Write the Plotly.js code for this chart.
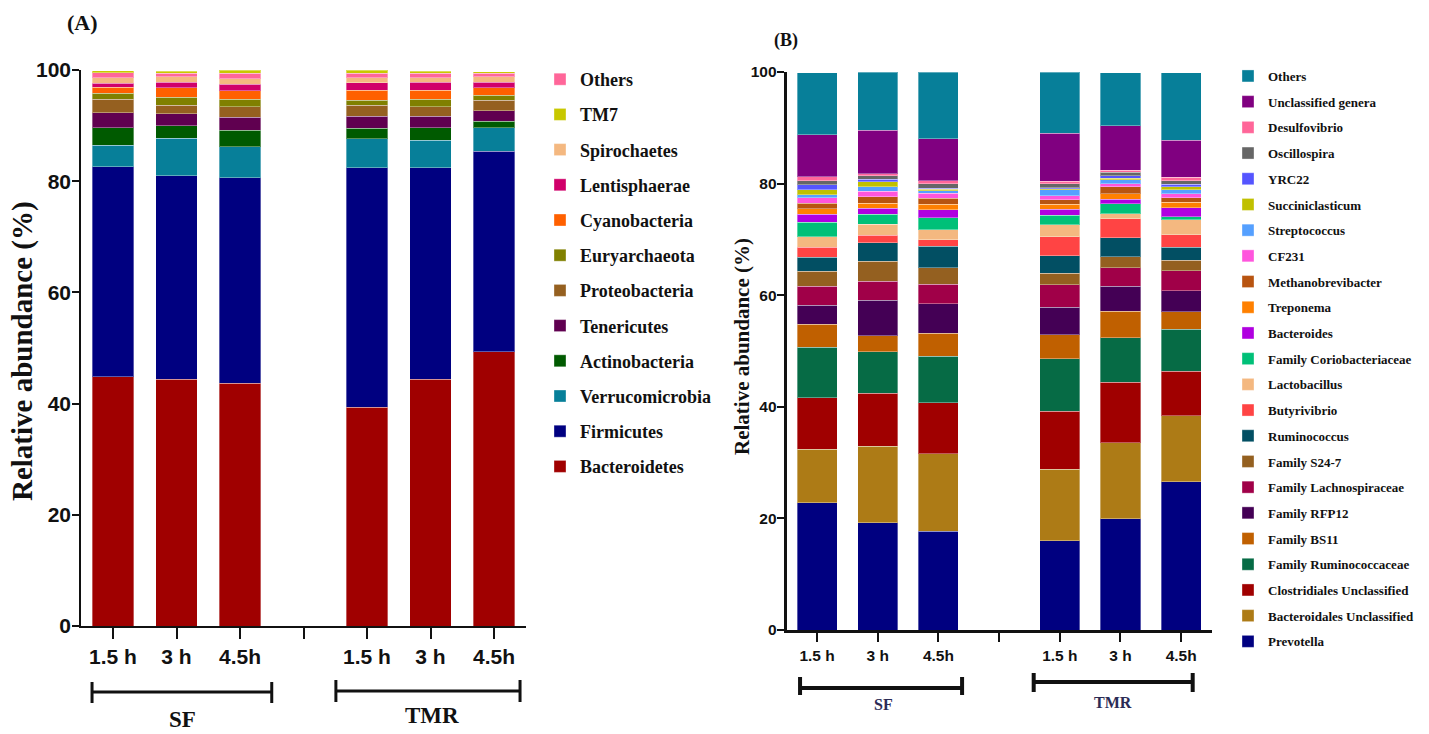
<!DOCTYPE html>
<html>
<head>
<meta charset="utf-8">
<script src="https://cdn.plot.ly/plotly-3.0.1.min.js"></script>
<style>
  html, body { margin: 0; padding: 0; background: #fff; }
  #chart { width: 1429px; height: 734px; }
</style>
</head>
<body>
<div id="chart"></div>
<script>
// ---------- categories ----------
const slotKeys   = ["SF 1.5 h", "SF 3 h", "SF 4.5h", "gap", "TMR 1.5 h", "TMR 3 h", "TMR 4.5h"];
const slotLabels = ["1.5 h", "3 h", "4.5h", "", "1.5 h", "3 h", "4.5h"];
const barKeys    = ["SF 1.5 h", "SF 3 h", "SF 4.5h", "TMR 1.5 h", "TMR 3 h", "TMR 4.5h"];
const groupNames = ["SF", "TMR"];

// ---------- Panel A: phyla (stack order bottom -> top) ----------
const phylumNames = ["Bacteroidetes", "Firmicutes", "Verrucomicrobia", "Actinobacteria", "Tenericutes",
  "Proteobacteria", "Euryarchaeota", "Cyanobacteria", "Lentisphaerae", "Spirochaetes", "Others", "TM7"];
// legend order (top -> bottom)
const phylumLegendOrder = ["Others", "TM7", "Spirochaetes", "Lentisphaerae", "Cyanobacteria", "Euryarchaeota",
  "Proteobacteria", "Tenericutes", "Actinobacteria", "Verrucomicrobia", "Firmicutes", "Bacteroidetes"];
const phylumColors = ["#a00000", "#000080", "#077f99", "#005a00", "#600050",
  "#956020", "#808000", "#ff6000", "#d0006a", "#f4b880", "#ff6699", "#c8c800"];

const Bacteroidetes   = [44.8, 44.4, 43.7, 39.3, 44.4, 49.3];
const Firmicutes      = [37.8, 36.6, 36.9, 43.1, 38.0, 36.1];
const Verrucomicrobia = [3.9, 6.7, 5.6, 5.2, 5.0, 4.2];
const Actinobacteria  = [3.1, 2.3, 3.0, 1.9, 2.2, 1.2];
const Tenericutes     = [2.7, 2.1, 2.3, 2.2, 2.1, 1.9];
const Proteobacteria  = [2.4, 1.6, 1.9, 2.0, 1.7, 1.9];
const Euryarchaeota   = [1.1, 1.4, 1.3, 0.9, 1.3, 0.9];
const Cyanobacteria   = [1.1, 1.7, 1.6, 1.8, 1.7, 1.3];
const Lentisphaerae   = [0.7, 1.0, 1.1, 1.3, 1.4, 1.0];
const Spirochaetes    = [1.0, 1.0, 1.0, 0.9, 0.8, 1.0];
const OthersA         = [0.9, 0.6, 1.0, 0.8, 0.8, 0.6];
const TM7             = [0.4, 0.4, 0.6, 0.6, 0.4, 0.3];
const phylumValues = [Bacteroidetes, Firmicutes, Verrucomicrobia, Actinobacteria, Tenericutes,
  Proteobacteria, Euryarchaeota, Cyanobacteria, Lentisphaerae, Spirochaetes, OthersA, TM7];

// ---------- Panel B: genera (stack order bottom -> top) ----------
const genusNames = ["Prevotella", "Bacteroidales Unclassified", "Clostridiales Unclassified",
  "Family Ruminococcaceae", "Family BS11", "Family RFP12", "Family Lachnospiraceae", "Family S24-7",
  "Ruminococcus", "Butyrivibrio", "Lactobacillus", "Family Coriobacteriaceae", "Bacteroides",
  "Treponema", "Methanobrevibacter", "CF231", "Streptococcus", "Succiniclasticum", "YRC22",
  "Oscillospira", "Desulfovibrio", "Unclassified genera", "Others"];
const genusColors = ["#000080", "#ad7b16", "#a00000", "#066b45", "#c06000", "#440055", "#a00048",
  "#946020", "#024f63", "#ff4444", "#f4b880", "#00c078", "#b000e0", "#ff8000", "#b85410",
  "#ff55dd", "#55a0ff", "#c0c000", "#5555ff", "#666666", "#ff6699", "#800080", "#077f99"];

const Prevotella          = [22.8, 19.2, 17.7, 16.0, 19.9, 26.6];
const BacteroidalesUncl   = [9.6, 13.7, 13.9, 12.8, 13.7, 11.8];
const ClostridialesUncl   = [9.2, 9.5, 9.1, 10.4, 10.8, 8.0];
const FamRuminococcaceae  = [9.1, 7.5, 8.4, 9.4, 8.0, 7.5];
const FamBS11             = [4.1, 2.8, 4.1, 4.3, 4.7, 3.1];
const FamRFP12            = [3.4, 6.4, 5.3, 4.9, 4.5, 3.8];
const FamLachnospiraceae  = [3.4, 3.4, 3.5, 4.1, 3.3, 3.6];
const FamS247             = [2.7, 3.6, 2.9, 2.0, 2.0, 1.9];
const Ruminococcus        = [2.5, 3.3, 3.9, 3.2, 3.4, 2.3];
const Butyrivibrio        = [1.8, 1.3, 1.1, 3.4, 3.4, 2.2];
const Lactobacillus       = [1.9, 2.0, 1.8, 2.1, 0.9, 2.7];
const FamCoriobacteriaceae= [2.6, 1.8, 2.2, 1.7, 1.8, 0.6];
const Bacteroides         = [1.4, 1.1, 1.4, 1.1, 0.8, 1.6];
const Treponema           = [1.0, 0.9, 1.0, 0.9, 1.0, 1.0];
const Methanobrevibacter  = [1.0, 1.1, 1.1, 0.8, 1.2, 0.8];
const CF231               = [1.0, 1.0, 0.9, 0.7, 0.6, 0.7];
const Streptococcus       = [0.5, 0.8, 0.4, 1.1, 0.7, 0.7];
const Succiniclasticum    = [0.9, 0.9, 0.3, 0.2, 0.3, 0.5];
const YRC22               = [0.9, 0.5, 0.2, 0.2, 0.4, 0.5];
const Oscillospira        = [0.7, 0.6, 0.8, 0.7, 0.6, 0.6];
const Desulfovibrio       = [0.7, 0.4, 0.5, 0.4, 0.4, 0.6];
const UnclassifiedGenera  = [7.6, 7.8, 7.5, 8.6, 8.0, 6.7];
const OthersB             = [11.1, 10.4, 12.0, 11.0, 9.5, 12.1];
const genusValues = [Prevotella, BacteroidalesUncl, ClostridialesUncl, FamRuminococcaceae, FamBS11,
  FamRFP12, FamLachnospiraceae, FamS247, Ruminococcus, Butyrivibrio, Lactobacillus,
  FamCoriobacteriaceae, Bacteroides, Treponema, Methanobrevibacter, CF231, Streptococcus,
  Succiniclasticum, YRC22, Oscillospira, Desulfovibrio, UnclassifiedGenera, OthersB];

const yTicks = [0, 20, 40, 60, 80, 100];

// ---------- styles ----------
const SERIF = "Liberation Serif, Times New Roman, serif";
const SANS  = "Liberation Sans, Arial, sans-serif";
const W = 1429, H = 734;
const px = v => v / W;
const py = v => 1 - v / H;

const traces = [];
phylumNames.forEach((name, i) => {
  traces.push({
    type: "bar", name: name, x: barKeys, y: phylumValues[i],
    xaxis: "x", yaxis: "y", legend: "legend",
    legendgroup: "A" + name, legendrank: phylumLegendOrder.indexOf(name) + 1,
    marker: { color: phylumColors[i], line: { color: "rgba(255,255,255,0.35)", width: 1 } },
    hoverinfo: "name+y"
  });
});
genusNames.forEach((name, i) => {
  traces.push({
    type: "bar", name: name, x: barKeys, y: genusValues[i],
    xaxis: "x2", yaxis: "y2", legend: "legend2",
    legendgroup: "B" + name, legendrank: genusNames.length - i,
    marker: { color: genusColors[i], line: { color: "rgba(255,255,255,0.35)", width: 1 } },
    hoverinfo: "name+y"
  });
});

function xAxis(domain, anchor, size, lw, tl) {
  return {
    domain: domain, anchor: anchor, type: "category",
    categoryorder: "array", categoryarray: slotKeys, range: [-0.5, 6.5],
    tickmode: "array", tickvals: slotKeys, ticktext: slotLabels,
    ticks: "outside", ticklen: tl, tickwidth: 2, tickcolor: "#111",
    showline: true, linewidth: lw, linecolor: "#111",
    showgrid: false, zeroline: false, fixedrange: true,
    tickfont: { family: SANS, size: size, color: "#111", weight: "bold" }
  };
}
function yAxis(domain, anchor, size, lw) {
  return {
    domain: domain, anchor: anchor, range: [0, 100],
    tickmode: "array", tickvals: yTicks,
    ticks: "outside", ticklen: 7, tickwidth: 2, tickcolor: "#111",
    ticklabelstandoff: -3,
    showline: true, linewidth: lw, linecolor: "#111",
    showgrid: false, zeroline: false, fixedrange: true,
    tickfont: { family: SANS, size: size, color: "#111", weight: "bold" }
  };
}

function bracket(xref, x0, x1, yLine, yTop, yBot, lw, color) {
  const line = { color: color, width: lw };
  return [
    { type: "line", xref: xref, yref: "paper", x0: x0, x1: x1, y0: py(yLine), y1: py(yLine), line: line },
    { type: "line", xref: xref, yref: "paper", x0: x0, x1: x0, y0: py(yTop), y1: py(yBot), line: line },
    { type: "line", xref: xref, yref: "paper", x0: x1, x1: x1, y0: py(yTop), y1: py(yBot), line: line }
  ];
}

const shapes = [].concat(
  bracket("x", -0.33, 2.5, 692, 682, 703, 3, "#111"),
  bracket("x", 3.51, 6.41, 691, 680, 702, 3, "#111"),
  bracket("x2", -0.28, 2.39, 688, 677, 695, 4, "#111"),
  bracket("x2", 3.57, 6.19, 682, 673, 692, 4, "#111")
);

function ann(text, x, y, size, color, angle) {
  return {
    text: text, xref: "paper", yref: "paper", x: px(x), y: py(y),
    xanchor: "center", yanchor: "middle", showarrow: false, textangle: angle || 0,
    font: { family: SERIF, size: size, color: color || "#111", weight: "bold" }
  };
}

const annotations = [
  ann("(A)", 82, 23, 22),
  ann("(B)", 786, 40, 18),
  ann("Relative abundance (%)", 22, 351, 29, "#111", -90),
  ann("Relative abundance (%)", 742, 347, 21, "#111", -90),
  ann(groupNames[0], 182, 719, 23),
  ann(groupNames[1], 432, 715, 23),
  ann(groupNames[0], 883, 704, 16, "#2b2b55"),
  ann(groupNames[1], 1113, 702, 16, "#2b2b55")
];

const layout = {
  width: W, height: H,
  margin: { l: 0, r: 0, t: 0, b: 0 },
  paper_bgcolor: "#fff", plot_bgcolor: "#fff",
  barmode: "stack", bargap: 0.34,
  showlegend: true,
  xaxis: xAxis([px(81.25), px(525.75)], "y", 21, 2, 11),
  yaxis: yAxis([1 - 626 / H, 1 - 70 / H], "x", 21, 2),
  xaxis2: xAxis([px(786.7), px(1211.5)], "y2", 15.5, 3, 9),
  yaxis2: yAxis([1 - 630 / H, 1 - 72 / H], "x2", 15.5, 3),
  legend: {
    x: px(540), y: py(61), xanchor: "left", yanchor: "top",
    traceorder: "grouped", tracegroupgap: 8.8,
    bgcolor: "rgba(0,0,0,0)",
    font: { family: SERIF, size: 18, color: "#111", weight: "bold" }
  },
  legend2: {
    x: px(1228), y: py(61), xanchor: "left", yanchor: "top",
    traceorder: "grouped", tracegroupgap: 5.8,
    bgcolor: "rgba(0,0,0,0)",
    font: { family: SERIF, size: 13, color: "#111", weight: "bold" }
  },
  shapes: shapes,
  annotations: annotations
};

Plotly.newPlot("chart", traces, layout, { displayModeBar: false, responsive: false });
</script>
</body>
</html>
